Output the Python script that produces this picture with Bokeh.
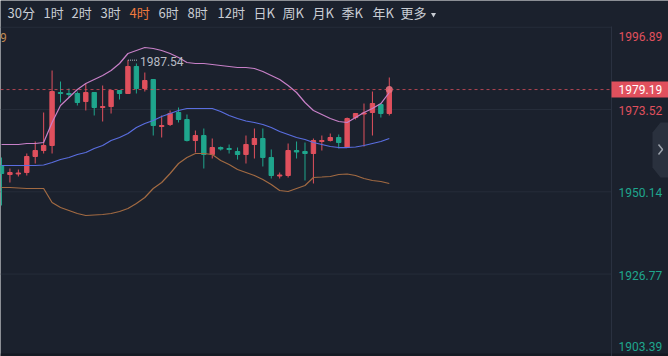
from bokeh.plotting import figure
from bokeh.models import Range1d, ColumnDataSource
from bokeh.core.properties import value
from bokeh.embed import file_html
from bokeh.resources import INLINE

# ---------------- data ----------------
opens = [1957.61, 1955.05, 1955.20, 1955.62, 1960.17, 1961.87, 1963.29, 1978.35, 1978.07, 1978.07,
         1975.79, 1978.35, 1974.09, 1974.37, 1978.92, 1978.07, 1985.74, 1979.49, 1982.04, 1968.69,
         1969.26, 1972.67, 1970.68, 1964.71, 1966.13, 1960.74, 1962.72, 1962.44, 1961.59, 1960.74,
         1963.58, 1965.28, 1959.88, 1954.63, 1954.77, 1961.87, 1961.59, 1961.02, 1964.43, 1964.71,
         1965.57, 1962.72, 1971.25, 1972.24, 1972.67, 1974.94, 1972.38]
highs = [1959.88, 1956.76, 1956.47, 1961.02, 1964.43, 1972.67, 1984.60, 1981.47, 1979.49, 1978.63,
         1980.91, 1978.49, 1980.34, 1979.06, 1979.06, 1987.54, 1986.59, 1984.03, 1982.19, 1971.82,
         1973.24, 1974.09, 1972.10, 1967.55, 1968.12, 1965.28, 1963.01, 1963.58, 1962.72, 1966.13,
         1968.12, 1968.12, 1962.16, 1955.62, 1963.86, 1964.43, 1964.14, 1965.28, 1966.13, 1966.70,
         1966.42, 1971.25, 1972.53, 1975.22, 1978.63, 1975.08, 1982.61]
lows = [1946.25, 1952.78, 1954.49, 1954.77, 1958.18, 1961.02, 1961.02, 1975.51, 1976.93, 1974.66,
        1973.24, 1971.82, 1970.11, 1972.38, 1976.36, 1977.93, 1978.07, 1978.63, 1966.13, 1965.57,
        1968.83, 1969.83, 1964.43, 1961.30, 1956.76, 1959.60, 1961.87, 1961.02, 1959.31, 1958.18,
        1959.60, 1957.33, 1953.92, 1953.92, 1954.20, 1959.60, 1953.35, 1952.50, 1961.87, 1964.43,
        1962.44, 1962.58, 1970.68, 1963.01, 1966.13, 1971.25, 1971.82]
closes = [1955.34, 1955.62, 1955.48, 1960.17, 1961.87, 1963.29, 1978.63, 1978.07, 1977.78, 1975.51,
          1978.35, 1974.09, 1974.37, 1978.92, 1978.07, 1985.74, 1979.49, 1981.76, 1968.97, 1968.97,
          1972.38, 1970.68, 1964.71, 1966.13, 1960.74, 1962.72, 1962.30, 1962.16, 1960.74, 1963.58,
          1965.28, 1959.88, 1954.77, 1954.91, 1961.87, 1961.45, 1961.02, 1964.71, 1964.71, 1965.57,
          1964.14, 1970.96, 1972.38, 1972.53, 1975.22, 1972.38, 1979.19]

boll_upper = [1963.58, 1963.58, 1963.58, 1963.86, 1963.86, 1964.14, 1969.83, 1974.66, 1976.93, 1979.20,
              1980.91, 1982.04, 1983.18, 1984.60, 1986.59, 1989.43, 1990.28, 1991.13, 1990.85, 1990.28,
              1989.43, 1988.29, 1986.87, 1986.59, 1986.59, 1986.30, 1986.02, 1985.74, 1985.45, 1985.45,
              1985.17, 1984.32, 1983.18, 1982.04, 1980.34, 1978.35, 1975.51, 1973.24, 1972.10, 1970.96,
              1970.11, 1969.83, 1971.25, 1972.67, 1973.80, 1975.22, 1978.35]
boll_mid = [1957.61, 1957.61, 1957.61, 1957.61, 1957.61, 1957.75, 1958.46, 1959.31, 1959.88, 1960.74,
            1961.30, 1962.44, 1963.29, 1964.71, 1965.57, 1966.70, 1968.41, 1969.54, 1970.40, 1971.53,
            1972.38, 1973.24, 1973.80, 1973.80, 1973.80, 1973.80, 1972.95, 1971.82, 1970.96, 1970.25,
            1969.83, 1969.26, 1968.41, 1967.27, 1966.42, 1965.57, 1965.00, 1964.14, 1963.58, 1963.01,
            1962.72, 1962.72, 1962.87, 1963.29, 1963.86, 1964.43, 1965.28]
boll_lower = [1951.36, 1951.36, 1951.22, 1951.08, 1951.08, 1951.08, 1947.10, 1945.68, 1944.83, 1943.97,
              1943.41, 1943.55, 1943.69, 1943.97, 1944.54, 1945.40, 1946.82, 1948.52, 1951.08, 1952.78,
              1955.34, 1958.18, 1959.88, 1961.02, 1961.02, 1960.74, 1959.03, 1957.89, 1956.47, 1955.62,
              1954.77, 1953.63, 1952.21, 1950.51, 1950.22, 1951.08, 1951.93, 1954.20, 1954.34, 1954.49,
              1955.05, 1955.20, 1954.77, 1953.92, 1953.35, 1953.07, 1952.50]

axis_ticks = [1996.89, 1973.52, 1950.14, 1926.77, 1903.39]
axis_labels = ["1996.89", "1973.52", "1950.14", "1926.77", "1903.39"]
last_price = 1979.19
high_index = 15
high_value = 1987.54
tabs = ["30分", "1时", "2时", "3时", "4时", "6时", "8时", "12时", "日K", "周K", "月K", "季K", "年K", "更多"]
active_tab = "4时"

# ---------------- style / layout ----------------
W, H = 668, 356
BG = "#1b212d"
GRID = "#262d3a"
RED = "#e0505d"
GREEN = "#1fa68d"
PINK = "#c880c8"
BLUE = "#5a6ee0"
BROWN = "#a26a42"
TXT = "#c9cdd4"

p = figure(width=W, height=H, output_backend="svg", toolbar_location=None,
           x_range=Range1d(-0.1186, 79.12), y_range=Range1d(1903.35, 2004.49),
           x_axis_location=None, y_axis_location=None, min_border=0)
p.min_border_left = p.min_border_right = p.min_border_top = p.min_border_bottom = 0
p.grid.visible = False
p.outline_line_color = None
p.background_fill_color = BG
p.border_fill_color = BG
p.extra_x_ranges = {"px": Range1d(0, W)}
p.extra_y_ranges = {"px": Range1d(H, 0)}

# bottom darker strip
p.quad(left=[0], right=[W], top=[353], bottom=[H], fill_color="#141922", line_color=None,
       x_range_name="px", y_range_name="px")

# grid lines
p.segment(x0=[0] * len(axis_ticks), x1=[611] * len(axis_ticks), y0=axis_ticks, y1=axis_ticks,
          line_color=GRID, line_width=1, x_range_name="px")
# separator of price axis
p.segment(x0=[611], x1=[611], y0=[26], y1=[H], line_color="#2a3140", line_width=1,
          x_range_name="px", y_range_name="px")

# candles
idx = list(range(len(opens)))
colors = [RED if c >= o else GREEN for o, c in zip(opens, closes)]
src = ColumnDataSource(dict(
    x=idx, h=highs, l=lows,
    top=[max(o, c) for o, c in zip(opens, closes)],
    bottom=[min(o, c) for o, c in zip(opens, closes)],
    color=colors))
p.segment(x0="x", x1="x", y0="h", y1="l", line_color="color", line_width=1, source=src)
p.vbar(x="x", width=0.52, top="top", bottom="bottom", fill_color="color",
       line_color="color", line_width=1, source=src)

# bollinger bands
p.line(idx, boll_upper, line_color=PINK, line_width=1.2)
p.line(idx, boll_mid, line_color=BLUE, line_width=1.2)
p.line(idx, boll_lower, line_color=BROWN, line_width=1.2)

# last price marker
p.scatter(x=[idx[-1]], y=[last_price], size=7, fill_color="#e8707e", line_color=None, fill_alpha=0.9)

# dashed current price line
p.segment(x0=[0], x1=[611], y0=[last_price], y1=[last_price], line_color=RED, line_alpha=0.75,
          line_width=1, line_dash="3 3", x_range_name="px")

# high annotation
p.ray(x=[high_index], y=[high_value], length=10, length_units="screen", angle=0,
      line_color="#b8bcc4", line_width=1, line_dash="1 1")
p.text(x=[high_index], y=[high_value], text=["1987.54"], x_offset=12, y_offset=1,
       text_font=value("Roboto"), text_font_size="12px", text_color="#b8bcc4",
       text_baseline="middle", text_align="left")

# price axis labels
asrc = ColumnDataSource(dict(
    x=[618] * len(axis_ticks), y=axis_ticks, text=axis_labels,
    off=[9, 1, 1, 1, -10],
    color=[RED if t > last_price - 10 else GREEN for t in axis_ticks]))
p.text(x="x", y="y", text="text", y_offset="off", text_color="color", source=asrc,
       text_font=value("Roboto"), text_font_size="12px", text_baseline="middle",
       text_align="left", x_range_name="px")

# current price box
p.rect(x=[639.5], y=[last_price], width=57, height=16, height_units="screen",
       fill_color=RED, line_color=None, x_range_name="px")
p.text(x=[618], y=[last_price], text=["%.2f" % last_price], text_color="#ffffff",
       text_font=value("Roboto"), text_font_size="12px", text_baseline="middle",
       text_align="left", x_range_name="px")

# side button with chevron
p.patch(x=[668, 660, 652, 652, 660, 668], y=[122, 122, 132, 167, 177, 177],
        fill_color="#2a313e", line_color=None, x_range_name="px", y_range_name="px")
p.line(x=[658, 662, 658], y=[144, 149, 154], line_color="#9aa0aa", line_width=1.5,
       x_range_name="px", y_range_name="px")

# indicator legend fragment
p.text(x=[-0.5], y=[37], text=["9"], text_color="#c08a52", text_font=value("Roboto"),
       text_font_size="12px", text_baseline="middle", text_align="left",
       x_range_name="px", y_range_name="px")

# header tabs
tab_x = [7, 43, 71, 100, 129, 158, 187, 217, 253, 282, 312, 341, 372, 400]
tsrc = ColumnDataSource(dict(
    x=tab_x, y=[12] * len(tabs), text=tabs,
    color=["#f07a3e" if t == active_tab else TXT for t in tabs]))
p.text(x="x", y="y", text="text", text_color="color", source=tsrc,
       text_font=value("Noto Sans CJK SC"), text_font_size="13px", text_baseline="middle",
       text_align="left", x_range_name="px", y_range_name="px")
p.scatter(x=[433], y=[14], marker="inverted_triangle", size=5, fill_color=TXT, line_color=None,
          x_range_name="px", y_range_name="px")

open("out.html", "w").write(file_html(p, INLINE))
